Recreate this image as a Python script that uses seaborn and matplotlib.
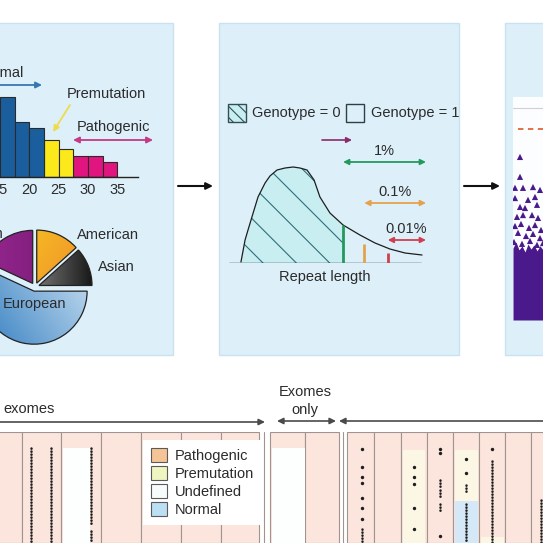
import matplotlib
matplotlib.use('Agg')
import matplotlib.pyplot as plt
from matplotlib.patches import Rectangle, Patch
from matplotlib.colors import LinearSegmentedColormap
import seaborn as sns
import pandas as pd
import numpy as np

sns.set_theme(style='white')
plt.rcParams['font.family'] = ['Liberation Sans', 'DejaVu Sans']
plt.rcParams['hatch.linewidth'] = 0.8
plt.rcParams['hatch.color'] = '#2f6f78'

W = H = 543
FS = 10.5
TXT = '#2b2b2b'

# panel 1 - repeat length histogram
BIN_EDGES = [15, 17.5, 20, 22.5, 25, 27.5, 30, 32.5, 35]
BIN_COUNTS = [80, 55, 49, 37, 28, 21, 21, 15]
BIN_CLASS = ['Normal', 'Normal', 'Normal', 'Premutation', 'Premutation',
             'Pathogenic', 'Pathogenic', 'Pathogenic']
HIST_TICKS = [15, 20, 25, 30, 35]
CLASS_COLORS = {'Normal': '#1b5e9e', 'Premutation': '#fbe91c', 'Pathogenic': '#e0157f'}

# ancestry pie, counter-clockwise from 12 o'clock
ANCESTRY = ['African', 'European', 'Asian', 'American']
ANCESTRY_SHARE = [65, 205, 42, 48]
# (start colour, end colour, gradient direction in degrees)
ANCESTRY_SHADES = [('#9a2892', '#6c166c', 0),
                   ('#2a78bd', '#e8f4fc', 35),
                   ('#e4e4e4', '#0e0e0e', 0),
                   ('#fad81c', '#ec7432', -35)]

# panel 2 - repeat length distribution
CURVE_X = [6.1, 8.2, 9.7, 11.7, 14.8, 18.4, 20.9, 24.5, 28.6, 32.7, 36.2, 39.8,
           43.4, 46.4, 51.5, 58.2, 66.8, 74.5, 82.1, 89.8, 98.5]
CURVE_Y = [0.01, 0.23, 0.33, 0.46, 0.66, 0.80, 0.87, 0.93, 0.95, 0.96, 0.95, 0.93,
           0.83, 0.66, 0.50, 0.38, 0.28, 0.20, 0.14, 0.10, 0.08]
THRESH_X = [58.2, 69.0, 81.0]
THRESH_TOP = [0.38, 0.19, 0.10]
THRESH_LABELS = ['1%', '0.1%', '0.01%']
THRESH_ARROW_Y = [1.01, 0.60, 0.23]
THRESH_COLORS = ['#23995e', '#e5a24a', '#cf3f4f']

# panel 3 - association scatter
HIT_X = [7, 7, 2, 10, 20, 27, 2, 15, 22, 7, 12, 24, 4, 10, 19, 25, 2, 8, 16, 22,
         28, 5, 13, 20, 27, 1, 9, 17, 24, 30]
HIT_LOGP = [6.23, 5.47, 5.05, 5.05, 5.08, 4.97, 4.66, 4.59, 4.70, 4.32, 4.28, 4.40,
            3.94, 4.01, 4.01, 3.90, 3.59, 3.67, 3.52, 3.63, 3.44, 3.33, 3.21, 3.29,
            3.13, 2.98, 2.91, 3.02, 2.87, 2.94]
CLOUD_X = [0, 3, 6, 9, 12, 15, 18, 21, 24, 27, 30]
CLOUD_TOP = [2.75, 2.98, 2.68, 2.83, 2.60, 2.90, 2.71, 2.87, 2.64, 2.83, 2.68]
SIG_LOGP = 7.3
TOP_LOGP = 8.1

# bottom table
EDGES_A = [-18, 22, 61, 101, 141, 181, 221, 259]
EDGES_B = [270, 305, 339]
EDGES_C = [347, 374, 401, 427, 453, 479, 505, 531, 557]
SEPARATORS = [264, 343]
CELL_X0 = [63, 272, 403, 455, 455, 481]
CELL_X1 = [90, 305, 425, 478, 478, 504]
CELL_TOP = [16, 16, 18, 18, 69, 105]
CELL_BOTTOM = [111, 111, 111, 69, 111, 111]
CELL_CLASS = ['Undefined', 'Undefined', 'Premutation', 'Premutation', 'Normal', 'Premutation']
DOT_RUN_X = [31, 51, 91, 91, 362, 440, 440, 440, 466, 466, 492, 541]
DOT_RUN_Y0 = [16, 16, 16, 99, 97, 48, 58, 72, 53, 72, 29, 68]
DOT_RUN_Y1 = [111, 111, 94, 111, 111, 56, 66, 80, 60, 111, 111, 111]
DOT_X = [362, 362, 362, 362, 362, 362, 362, 414, 414, 414, 414, 414,
         440, 440, 440, 466, 466, 492]
DOT_Y = [17, 35, 45, 51, 66, 76, 87, 35, 45, 52, 76, 97, 17, 21, 104, 27, 41, 17]
TABLE_CLASSES = ['Pathogenic', 'Premutation', 'Undefined', 'Normal']
LEGEND_COLORS = ['#f4c496', '#eef5c0', '#f7fbfb', '#bcdff3']
CELL_COLORS = {'Undefined': '#fdfefe', 'Premutation': '#fbf7e4', 'Normal': '#d5e8f7'}
TABLE_PINK = '#fbe5dc'
PANEL_BLUE = '#ddeff9'
PURPLE = '#4a1a8c'


def frac(x0, y0, x1, y1):
    return [x0 / W, 1 - y1 / H, (x1 - x0) / W, (y1 - y0) / H]


def arrow(ax, x0, y0, x1, y1, color, style='-|>', lw=1.3, ms=9):
    ax.annotate('', xy=(x1, y1), xytext=(x0, y0),
                arrowprops=dict(arrowstyle=style, color=color, lw=lw,
                                mutation_scale=ms, shrinkA=0, shrinkB=0),
                annotation_clip=False)


def label(ax, x, y, s, ha='left'):
    ax.text(x, y, s, ha=ha, va='center', fontsize=FS, color=TXT)


def shade_wedge(ax, wedge, c0, c1, angle):
    v = np.linspace(0, 1, 200)
    gx, gy = np.meshgrid(v, v)
    a = np.deg2rad(angle)
    ramp = np.cos(a) * gx + np.sin(a) * gy
    ramp = (ramp - ramp.min()) / (ramp.max() - ramp.min())
    cmap = LinearSegmentedColormap.from_list('shade', [c0, c1])
    im = ax.imshow(ramp, extent=(-1.2, 1.2, -1.2, 1.2), origin='lower', cmap=cmap,
                   interpolation='bilinear', zorder=wedge.get_zorder() - 0.5)
    im.set_clip_path(wedge)
    wedge.set_facecolor('none')


fig = plt.figure(figsize=(5.43, 5.43), dpi=100)
fig.patch.set_facecolor('white')

bg = fig.add_axes([0, 0, 1, 1])
bg.set_xlim(0, W)
bg.set_ylim(H, 0)
bg.axis('off')
for x0, x1 in [(-10, 173), (219, 459), (505, 560)]:
    bg.add_patch(Rectangle((x0, 23), x1 - x0, 332, facecolor=PANEL_BLUE,
                           edgecolor='#c9e2ef', lw=1))

# ---- panel 1 ----
ax1 = fig.add_axes(frac(0, 77, 138, 177))
centers = np.array(BIN_EDGES[:-1]) + np.diff(BIN_EDGES) / 2
df_hist = pd.DataFrame({'repeats': centers, 'count': BIN_COUNTS, 'class': BIN_CLASS})
sns.histplot(data=df_hist, x='repeats', weights='count', hue='class', bins=BIN_EDGES,
             palette=CLASS_COLORS, alpha=1, edgecolor='#2a2a2a', linewidth=0.8,
             legend=False, multiple='layer', ax=ax1)
ax1.set_xlim(16.04, 38.5)
ax1.set_ylim(0, 100)
ax1.set_facecolor('none')
ax1.set_xlabel('')
ax1.set_ylabel('')
ax1.set_yticks([])
ax1.set_xticks(HIST_TICKS)
ax1.set_xticklabels([str(t) for t in HIST_TICKS])
ax1.tick_params(axis='x', length=0, pad=4, labelsize=FS, colors=TXT)
sns.despine(ax=ax1, left=True)
ax1.spines['bottom'].set_color('#222222')
ax1.spines['bottom'].set_linewidth(1)

axp = fig.add_axes(frac(35 - 61, 287 - 61, 35 + 61, 287 + 61))
wedges, _ = axp.pie(ANCESTRY_SHARE, startangle=90, counterclock=True,
                    explode=[0.08] * len(ANCESTRY_SHARE),
                    wedgeprops=dict(edgecolor='#222222', linewidth=0.9))
for wdg, (c0, c1, ang) in zip(wedges, ANCESTRY_SHADES):
    shade_wedge(axp, wdg, c0, c1, ang)
axp.set_xlim(-1.15, 1.15)
axp.set_ylim(-1.15, 1.15)
axp.set_facecolor('none')
axp.axis('off')

# ---- panel 2 ----
ax2 = fig.add_axes(frac(229, 163, 425, 263))
cx = np.array(CURVE_X)
cy = np.array(CURVE_Y)
ax2.fill_between(cx, cy, where=cx <= THRESH_X[0], facecolor='#c9eef2',
                 edgecolor='#2f6f78', hatch='\\', linewidth=0)
sns.lineplot(x=cx, y=cy, color='#1e1e1e', lw=0.9, ax=ax2)
ax2.axhline(0, xmin=0, xmax=0.98, color='#1e1e1e', lw=1)
ax2.vlines(THRESH_X, 0, THRESH_TOP, colors=THRESH_COLORS, lw=2)
for tx, ty, lab, col in zip(THRESH_X, THRESH_ARROW_Y, THRESH_LABELS, THRESH_COLORS):
    arrow(ax2, tx, ty, 100.5, ty, col, style='<|-|>', lw=1.3, ms=8)
    ax2.text((tx + 100) / 2, ty + 0.11, lab, ha='center', va='center',
             fontsize=FS, color=TXT)
ax2.set_xlim(0, 100)
ax2.set_ylim(0, 1)
ax2.axis('off')

# ---- panel 3 ----
ax3 = fig.add_axes(frac(513, 97, 543, 320))
ax3.set_facecolor('#fbfdfe')
ax3.fill_between(CLOUD_X, CLOUD_TOP, 0, color=PURPLE, lw=0)
sns.scatterplot(x=HIT_X, y=HIT_LOGP, marker='^', s=20, color=PURPLE,
                edgecolor='none', ax=ax3)
ax3.axhline(TOP_LOGP, color='#d0d0d0', lw=0.8)
ax3.axhline(SIG_LOGP, xmin=0.17, color='#e0663a', lw=1.3, ls=(0, (3, 2.5)))
ax3.set_xlim(0, 30)
ax3.set_ylim(0, 8.52)
ax3.set_xticks([])
ax3.set_yticks([])
for s in ax3.spines.values():
    s.set_visible(False)

# ---- table ----
ax4 = fig.add_axes(frac(0, 432, 543, 543))
for edges in (EDGES_A, EDGES_B, EDGES_C):
    ax4.bar(np.array(edges[:-1]), 111, width=np.diff(edges), bottom=0, align='edge',
            color=TABLE_PINK, edgecolor='#a09490', linewidth=0.8)
for sx in SEPARATORS:
    ax4.axvline(sx, color='#a09490', lw=0.8)
c_x0 = np.array(CELL_X0)
c_top = np.array(CELL_TOP)
ax4.bar(c_x0, np.array(CELL_BOTTOM) - c_top, width=np.array(CELL_X1) - c_x0,
        bottom=c_top, align='edge', color=[CELL_COLORS[c] for c in CELL_CLASS], lw=0)
for x, y0, y1 in zip(DOT_RUN_X, DOT_RUN_Y0, DOT_RUN_Y1):
    ax4.plot([x, x], [y0, y1], color='#1e1e1e', lw=1.8, ls=(0, (0.1, 1.1)),
             dash_capstyle='round', zorder=3)
ax4.scatter(DOT_X, DOT_Y, s=6, color='#1e1e1e', lw=0, zorder=3)
ax4.set_xlim(0, W)
ax4.set_ylim(111, 0)
ax4.axis('off')

handles = [Patch(facecolor=c, edgecolor='#5a5a5a', lw=0.8, label=l)
           for l, c in zip(TABLE_CLASSES, LEGEND_COLORS)]
leg = ax4.legend(handles=handles, loc='upper left', bbox_to_anchor=(143, 8),
                 bbox_transform=ax4.transData, borderaxespad=0, fontsize=FS,
                 handlelength=1.1, handleheight=1.1, handletextpad=0.55,
                 labelspacing=0.2, borderpad=0.55, fancybox=False,
                 framealpha=1, edgecolor='none', facecolor='white')
for t in leg.get_texts():
    t.set_color(TXT)

# ---- labels and arrows on top ----
fg = fig.add_axes([0, 0, 1, 1])
fg.set_xlim(0, W)
fg.set_ylim(H, 0)
fg.axis('off')
fg.patch.set_alpha(0)

arrow(fg, 178, 186, 213, 186, '#111111', lw=1.5, ms=10)
arrow(fg, 464, 186, 500, 186, '#111111', lw=1.5, ms=10)

label(fg, 24, 73, 'Normal', ha='right')
arrow(fg, -5, 85, 42, 85, '#3578b0')
label(fg, 67, 94, 'Premutation')
arrow(fg, 70, 105, 53, 132, '#eedc4a')
label(fg, 77, 127, 'Pathogenic')
arrow(fg, 73, 140, 153, 140, '#c33a86', style='<|-|>')
label(fg, 4, 234, 'African', ha='right')
label(fg, 77, 235, 'American')
label(fg, 98, 267, 'Asian')
label(fg, 34, 304, 'European', ha='center')

fg.add_patch(Rectangle((228, 104), 18, 18, facecolor='#c9eef2', edgecolor='#2f4f55',
                       hatch='\\\\\\', lw=1))
label(fg, 252, 113, 'Genotype = 0')
fg.add_patch(Rectangle((346, 104), 18, 18, facecolor='none', edgecolor='#2f3f45', lw=1))
label(fg, 371, 113, 'Genotype = 1')
arrow(fg, 322, 140, 352, 140, '#8c2a6a', lw=1.2, ms=8)
label(fg, 325, 277, 'Repeat length', ha='center')

arrow(fg, -5, 422, 265, 422, '#4a4a4a', lw=1.2, ms=9)
label(fg, 3, 409, 'exomes')
arrow(fg, 277, 421, 336, 421, '#4a4a4a', style='<|-|>', lw=1.2, ms=9)
label(fg, 305, 392, 'Exomes', ha='center')
label(fg, 305, 410, 'only', ha='center')
arrow(fg, 548, 421, 339, 421, '#4a4a4a', lw=1.2, ms=9)

fig.savefig('out.png', dpi=100, facecolor='white')
